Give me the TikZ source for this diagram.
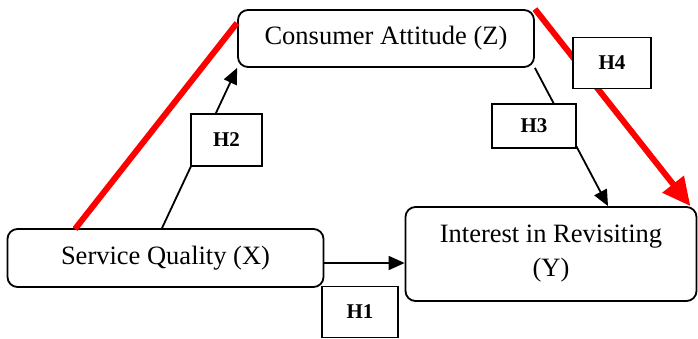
\documentclass[tikz,border=0pt]{standalone}
\usepackage{fontspec}
\setmainfont{Liberation Serif}
\usepackage{xcolor}
\usepackage{tikz}
\usetikzlibrary{positioning, calc, arrows.meta}
\definecolor{hred}{HTML}{FF0000}
\definecolor{hdark}{HTML}{000000}
\tikzset{
  varbox/.style={draw=hdark, line width=1.8pt, rounded corners=10pt, fill=white,
    align=center, inner sep=0pt, font=\fontsize{26.5}{34}\selectfont},
  hypbox/.style={draw=hdark, line width=1.8pt, fill=white, inner sep=0pt,
    font=\fontsize{21}{25}\selectfont\bfseries},
  hyparrow/.style={hdark, line width=1.8pt, -{Triangle[length=16pt, width=14pt]}},
  medline/.style={hred, line width=6pt},
}

\begin{document}
\begin{tikzpicture}[x=1pt, y=-1pt]
\useasboundingbox (0,0) rectangle (698,338);

\node[varbox, minimum width=296pt, minimum height=57pt] (zatt) at (386,38.5) {Consumer Attitude (Z)};
\node[varbox, minimum width=316pt, minimum height=58pt] (xsq) at (165.5,258) {Service Quality (X)};
\node[varbox, minimum width=291pt, minimum height=94pt] (yint) at (551,254) {Interest in Revisiting\\(Y)};

\coordinate (m1) at (75,229);
\coordinate (m2) at (237,23);

% mediation path in red
\draw[medline, line cap=butt] (m1) -- (m2);
\draw[medline, -{Triangle[length=28pt, width=26pt]}] (zatt.north east) -- ([xshift=-7pt]yint.north east);

\draw[hyparrow] ([xshift=-3.5pt]xsq.north) -- (zatt.south west);
\draw[hyparrow] (zatt.south east) -- ([xshift=57pt]yint.north);
\draw[hyparrow] ([yshift=-5pt]xsq.east) -- ([yshift=-5pt]xsq.east -| yint.west);

\node[hypbox, minimum width=71pt, minimum height=52pt] (h2) at (226.5,140) {H2};
\node[hypbox, minimum width=84pt, minimum height=44pt] (h3) at (534,126) {H3};
\node[hypbox, minimum width=78pt, minimum height=51pt] (h4) at (612,63) {H4};
\node[hypbox, minimum width=76pt, minimum height=51pt] (h1) at (360,312) {H1};

\end{tikzpicture}
\end{document}
